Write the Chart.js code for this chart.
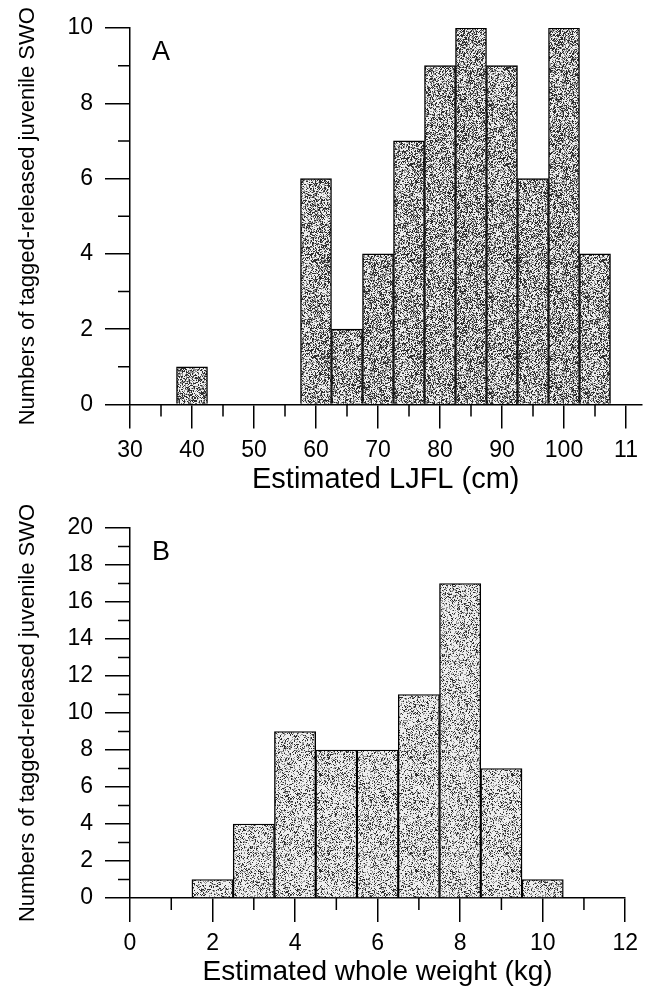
<!DOCTYPE html>
<html>
<head>
<meta charset="utf-8">
<script src="https://cdn.jsdelivr.net/npm/chart.js@4"></script>
<style>
  html, body { margin: 0; padding: 0; background: #fff; }
  #wrap { position: relative; width: 646px; height: 994px; overflow: hidden; }
  canvas { position: absolute; left: 0; }
  #chartA { top: 0; }
  #chartB { top: 497px; }
</style>
</head>
<body>
<div id="wrap">
  <canvas id="chartA" width="646" height="497"></canvas>
  <canvas id="chartB" width="646" height="497"></canvas>
</div>
<script>
// panel A - length classes (bin centres, 5 cm wide)
const lengthBins = [40, 60, 65, 70, 75, 80, 85, 90, 95, 100, 105];
const lengthCounts = [1, 6, 2, 4, 7, 9, 10, 9, 6, 10, 4];
const lengthTickLabels = ['30', '40', '50', '60', '70', '80', '90', '100', '11'];
const lengthMinorTicks = [35, 45, 55, 65, 75, 85, 95, 105];
const countMinorTicksA = [1, 3, 5, 7, 9];

// panel B - weight classes (bin centres, 1 kg wide)
const weightBins = [2, 3, 4, 5, 6, 7, 8, 9, 10];
const weightCounts = [1, 4, 9, 8, 8, 11, 17, 7, 1];
const weightTickLabels = ['0', '2', '4', '6', '8', '10', '12'];
const weightMinorTicks = [1, 3, 5, 7, 9, 11];
const countMinorTicksB = [1, 3, 5, 7, 9, 11, 13, 15, 17, 19];

const yTitle = 'Numbers of tagged-released juvenile SWO';

Chart.defaults.font.family = "'Liberation Sans', Arial, sans-serif";
Chart.defaults.color = '#000';

// stippled grey fill like the scanned figure (texture only)
function stipple(darkShare, midShare) {
    const c = document.createElement('canvas');
    c.width = 96; c.height = 96;
    const g = c.getContext('2d');
    const img = g.createImageData(96, 96);
    let s = 12345;
    for (let i = 0; i < 96 * 96; i++) {
        s = (s * 1103515245 + 12345) & 0x7fffffff;
        const r = s / 0x7fffffff;
        let v = 238;
        if (r < darkShare) v = 45;
        else if (r < darkShare + midShare) v = 145;
        img.data[i * 4] = v;
        img.data[i * 4 + 1] = v;
        img.data[i * 4 + 2] = v;
        img.data[i * 4 + 3] = 255;
    }
    g.putImageData(img, 0, 0);
    return g.createPattern(c, 'repeat');
}

// short minor ticks and the panel letter
const extras = {
    id: 'extras',
    afterDraw(chart, args, opts) {
        const { ctx, chartArea, scales: { x, y } } = chart;
        ctx.save();
        ctx.strokeStyle = '#000';
        ctx.lineWidth = 1.5;
        ctx.beginPath();
        opts.xMinor.forEach(v => {
            const px = x.getPixelForValue(v);
            ctx.moveTo(px, chartArea.bottom);
            ctx.lineTo(px, chartArea.bottom + 12);
        });
        opts.yMinor.forEach(v => {
            const py = y.getPixelForValue(v);
            ctx.moveTo(chartArea.left - 12, py);
            ctx.lineTo(chartArea.left, py);
        });
        ctx.stroke();
        ctx.fillStyle = '#000';
        ctx.font = "27px 'Liberation Sans', Arial, sans-serif";
        ctx.textAlign = 'center';
        ctx.textBaseline = 'middle';
        ctx.fillText(opts.letter, chartArea.left + 31, chartArea.top + 25);
        ctx.restore();
    }
};

function histogram(id, bins, counts, cfg) {
    return new Chart(document.getElementById(id), {
        type: 'bar',
        data: {
            datasets: [{
                data: bins.map((b, i) => ({ x: b, y: counts[i] })),
                backgroundColor: cfg.fill,
                borderColor: '#000',
                borderWidth: 1.4,
                barPercentage: 1,
                categoryPercentage: 1
            }]
        },
        options: {
            responsive: false,
            animation: false,
            devicePixelRatio: 1,
            layout: { padding: { top: cfg.top, right: cfg.right, left: 0, bottom: 0 } },
            plugins: {
                legend: { display: false },
                tooltip: { enabled: false },
                extras: { letter: cfg.letter, xMinor: cfg.xMinor, yMinor: cfg.yMinor }
            },
            scales: {
                x: {
                    type: 'linear',
                    offset: false,
                    min: cfg.xMin,
                    max: cfg.xMax,
                    afterFit: s => { s.height = cfg.xHeight; },
                    ticks: {
                        stepSize: cfg.xStep,
                        includeBounds: false,
                        maxRotation: 0,
                        autoSkip: false,
                        padding: 8,
                        font: { size: 23 },
                        callback: (v, i) => cfg.xLabels[i]
                    },
                    grid: { offset: false, drawOnChartArea: false, color: '#000', lineWidth: 1.5, tickLength: 24 },
                    border: { display: true, color: '#000', width: 1.5 },
                    title: {
                        display: true,
                        text: cfg.xTitle,
                        font: { size: cfg.xTitleSize, lineHeight: 1 },
                        padding: { top: 0, bottom: cfg.xTitlePad }
                    }
                },
                y: {
                    min: 0,
                    max: cfg.yMax,
                    afterFit: s => { s.width = 130; },
                    ticks: { stepSize: 2, padding: 12, font: { size: 23 } },
                    grid: { drawOnChartArea: false, color: '#000', lineWidth: 1.5, tickLength: 25 },
                    border: { display: true, color: '#000', width: 1.5 },
                    title: {
                        display: true,
                        text: yTitle,
                        font: { size: 22, lineHeight: 1 },
                        padding: { top: 17, bottom: 0 }
                    }
                }
            }
        },
        plugins: [extras]
    });
}

histogram('chartA', lengthBins, lengthCounts, {
    fill: stipple(0.3, 0.24),
    letter: 'A',
    top: 28, right: 2,
    xMin: 30, xMax: 112.5, xStep: 10,
    xLabels: lengthTickLabels,
    xMinor: lengthMinorTicks, yMinor: countMinorTicksA,
    xHeight: 92.5, xTitlePad: 3, xTitleSize: 29,
    xTitle: 'Estimated LJFL (cm)',
    yMax: 10
});

histogram('chartB', weightBins, weightCounts, {
    fill: stipple(0.15, 0.2),
    letter: 'B',
    top: 31, right: 18,
    xMin: 0, xMax: 12, xStep: 2,
    xLabels: weightTickLabels,
    xMinor: weightMinorTicks, yMinor: countMinorTicksB,
    xHeight: 96, xTitlePad: 8, xTitleSize: 28,
    xTitle: 'Estimated whole weight (kg)',
    yMax: 20
});
</script>
</body>
</html>
